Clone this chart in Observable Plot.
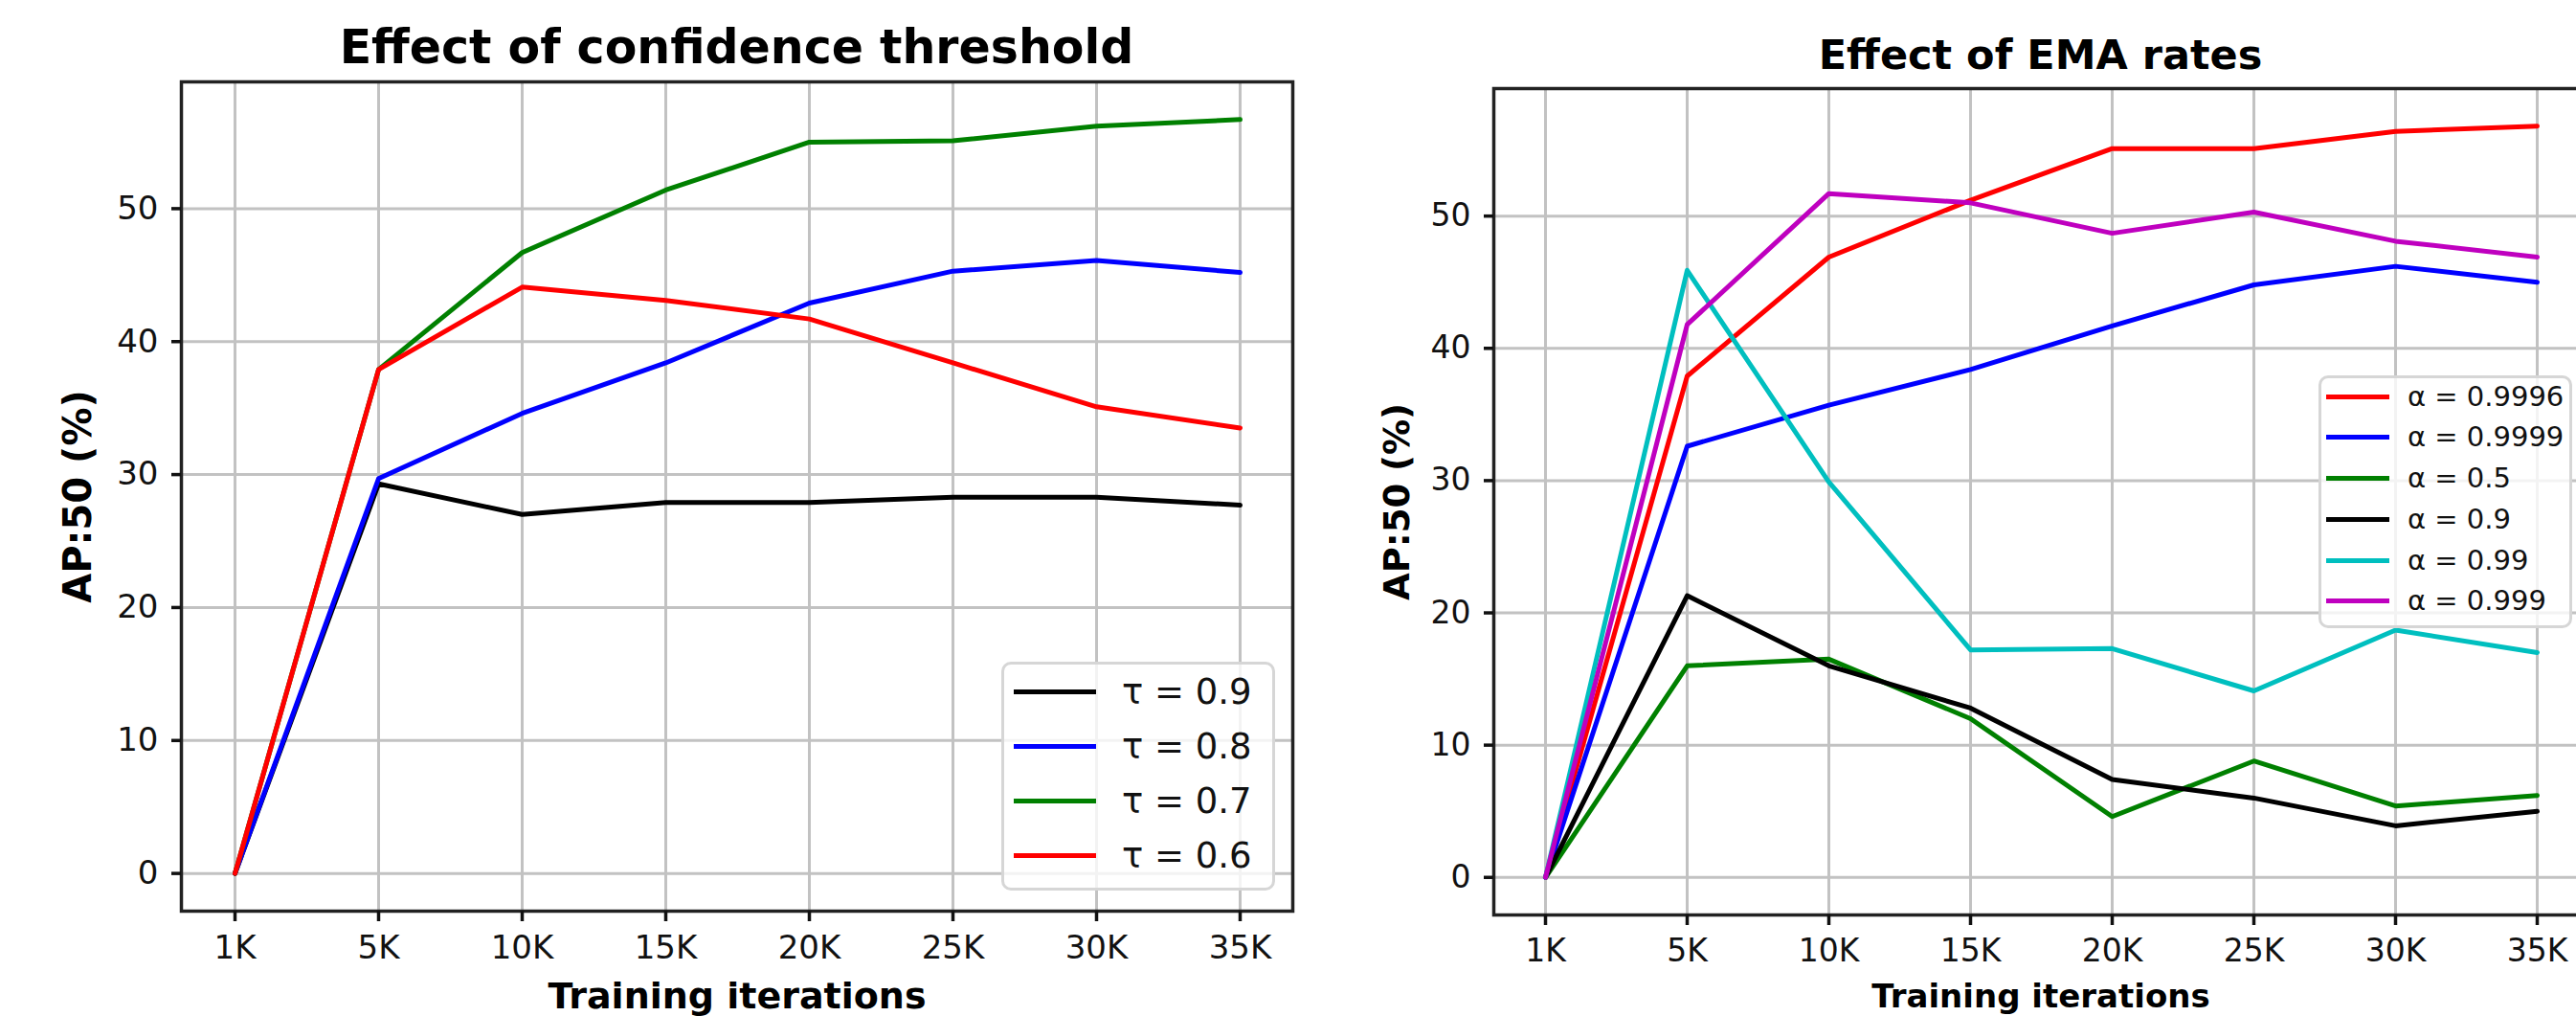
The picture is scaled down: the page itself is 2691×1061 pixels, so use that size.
<!DOCTYPE html>
<html><head><meta charset="utf-8">
<script src="https://cdn.jsdelivr.net/npm/d3@7"></script>
<script src="https://cdn.jsdelivr.net/npm/@observablehq/plot@0.6"></script>
<style>
html,body{margin:0;padding:0;background:#fff;}
#page{position:relative;width:2691px;height:1061px;overflow:hidden;background:#fff;font-family:"DejaVu Sans",sans-serif;}
.panel{position:absolute;top:0;}
.panel svg{max-width:none !important;}
.title{position:absolute;text-align:center;font-weight:bold;line-height:1;color:#000;white-space:nowrap;}
.legend{position:absolute;box-sizing:border-box;border:3px solid #d6d6d6;border-radius:10px;background:rgba(255,255,255,0.8);}
.legend .row{position:absolute;left:0;right:0;display:flex;align-items:center;}
.legend .sw{flex:none;}
.legend .lb{white-space:nowrap;color:#111;line-height:1;}
</style></head><body><div id="page"></div>
<script>
// ---- data ----
const iterations = ["1K", "5K", "10K", "15K", "20K", "25K", "30K", "35K"];
const yTicks = [0, 10, 20, 30, 40, 50];

// Left panel: confidence threshold
const tauNames = ["τ = 0.9", "τ = 0.8", "τ = 0.7", "τ = 0.6"];
const tau09 = [0, 29.3, 27.0, 27.9, 27.9, 28.3, 28.3, 27.7];
const tau08 = [0, 29.7, 34.6, 38.4, 42.9, 45.3, 46.1, 45.2];
const tau07 = [0, 37.9, 46.7, 51.4, 55.0, 55.1, 56.2, 56.7];
const tau06 = [0, 37.9, 44.1, 43.1, 41.7, 38.4, 35.1, 33.5];
const tauColors = ["#000000", "#0000ff", "#008000", "#ff0000"];

// Right panel: EMA rates
const alphaNames = ["α = 0.9996", "α = 0.9999", "α = 0.5", "α = 0.9", "α = 0.99", "α = 0.999"];
const a9996 = [0, 37.9, 46.9, 51.2, 55.1, 55.1, 56.4, 56.8];
const a9999 = [0, 32.6, 35.7, 38.4, 41.7, 44.8, 46.2, 45.0];
const a05   = [0, 16.0, 16.5, 12.0, 4.6, 8.8, 5.4, 6.2];
const a09   = [0, 21.3, 16.0, 12.8, 7.4, 6.0, 3.9, 5.0];
const a099  = [0, 45.9, 29.9, 17.2, 17.3, 14.1, 18.7, 17.0];
const a0999 = [0, 41.8, 51.7, 51.0, 48.7, 50.3, 48.1, 46.9];
const alphaColors = ["#ff0000", "#0000ff", "#008000", "#000000", "#00bfbf", "#bf00bf"];

const titles = ["Effect of confidence threshold", "Effect of EMA rates"];
const xLabel = "Training iterations";
const yLabel = "AP:50 (%)";

// ---- build ----
function toRows(names, series) {
  const rows = [];
  names.forEach((n, i) => series[i].forEach((v, j) => rows.push({series: n, iter: iterations[j], value: v})));
  return rows;
}

const page = document.getElementById("page");

function panel(cfg) {
  const rows = toRows(cfg.names, cfg.series);
  const vals = rows.map(d => d.value);
  const lo = d3.min(vals), hi = d3.max(vals), pad = (hi - lo) * 0.05;
  const chart = Plot.plot({
    width: cfg.width, height: 1061,
    marginLeft: cfg.ml, marginRight: cfg.mr, marginTop: cfg.mt, marginBottom: cfg.mb,
    style: {fontFamily: "DejaVu Sans", fontSize: "34px", color: "#111", background: "transparent", overflow: "visible", maxWidth: "none"},
    x: {type: "point", domain: iterations, padding: 0.35, label: null},
    y: {domain: [lo - pad, hi + pad], ticks: yTicks, label: null},
    color: {domain: cfg.names, range: cfg.colors},
    marks: [
      Plot.gridX({stroke: "#c2c2c2", strokeWidth: 3, strokeOpacity: 1}),
      Plot.gridY(yTicks, {stroke: "#c2c2c2", strokeWidth: 3, strokeOpacity: 1}),
      Plot.line(rows, {x: "iter", y: "value", z: "series", stroke: "series", strokeWidth: 5}),
      Plot.frame({stroke: "#222", strokeWidth: 3.5}),
      Plot.axisX({tickSize: 11, tickPadding: 14, fontSize: cfg.tickFont, strokeWidth: 3.5, label: null}),
      Plot.axisY(yTicks, {tickSize: 10, tickPadding: 14, fontSize: cfg.tickFont, strokeWidth: 3.5, label: null}),
      Plot.text([xLabel], {text: d => d, frameAnchor: "bottom", dy: cfg.xLabDy, fontSize: cfg.xLabFont, fontWeight: "bold", textAnchor: "middle", lineAnchor: "middle", fill: "#000"}),
      Plot.text([yLabel], {text: d => d, frameAnchor: "left", dx: -cfg.yLabDx, rotate: -90, fontSize: cfg.yLabFont, fontWeight: "bold", textAnchor: "middle", lineAnchor: "middle", fill: "#000"})
    ]
  });
  const wrap = document.createElement("div");
  wrap.className = "panel";
  wrap.style.left = cfg.left + "px";
  wrap.style.width = cfg.width + "px";
  wrap.style.height = "1061px";
  wrap.appendChild(chart);
  page.appendChild(wrap);

  const t = document.createElement("div");
  t.className = "title";
  t.textContent = cfg.title;
  t.style.left = (cfg.left + cfg.ml) + "px";
  t.style.width = (cfg.width - cfg.ml - cfg.mr) + "px";
  t.style.top = cfg.titleTop + "px";
  t.style.fontSize = cfg.titleFont + "px";
  page.appendChild(t);

  const lg = document.createElement("div");
  lg.className = "legend";
  Object.assign(lg.style, {left: cfg.lg.x + "px", top: cfg.lg.y + "px", width: cfg.lg.w + "px", height: cfg.lg.h + "px"});
  cfg.names.forEach((n, i) => {
    const r = document.createElement("div");
    r.className = "row";
    r.style.top = (cfg.lg.first + i * cfg.lg.step - cfg.lg.step / 2 - 3) + "px";
    r.style.height = cfg.lg.step + "px";
    const sw = document.createElement("div");
    sw.className = "sw";
    Object.assign(sw.style, {marginLeft: cfg.lg.swX + "px", width: cfg.lg.swW + "px", height: "5px", background: cfg.colors[i]});
    const lb = document.createElement("div");
    lb.className = "lb";
    lb.textContent = n;
    Object.assign(lb.style, {marginLeft: cfg.lg.gap + "px", fontSize: cfg.lg.font + "px"});
    r.appendChild(sw); r.appendChild(lb);
    lg.appendChild(r);
  });
  page.appendChild(lg);
}

panel({
  left: 0, width: 1370, ml: 189, mr: 20, mt: 85, mb: 110,
  names: tauNames, series: [tau09, tau08, tau07, tau06], colors: tauColors,
  title: titles[0], titleTop: 25, titleFont: 49,
  tickFont: 34, xLabFont: 38, xLabDy: 89, yLabFont: 40, yLabDx: 107,
  lg: {x: 1046, y: 691, w: 286, h: 239, first: 31, step: 57, swX: 10, swW: 86, gap: 27, font: 37}
});

panel({
  left: 1380, width: 1340, ml: 180, mr: 17, mt: 92, mb: 106,
  names: alphaNames, series: [a9996, a9999, a05, a09, a099, a0999], colors: alphaColors,
  title: titles[1], titleTop: 36, titleFont: 43,
  tickFont: 33, xLabFont: 34, xLabDy: 86, yLabFont: 37, yLabDx: 100,
  lg: {x: 2422, y: 392, w: 265, h: 264, first: 22, step: 42.8, swX: 5, swW: 66, gap: 19, font: 29}
});
</script></body></html>
